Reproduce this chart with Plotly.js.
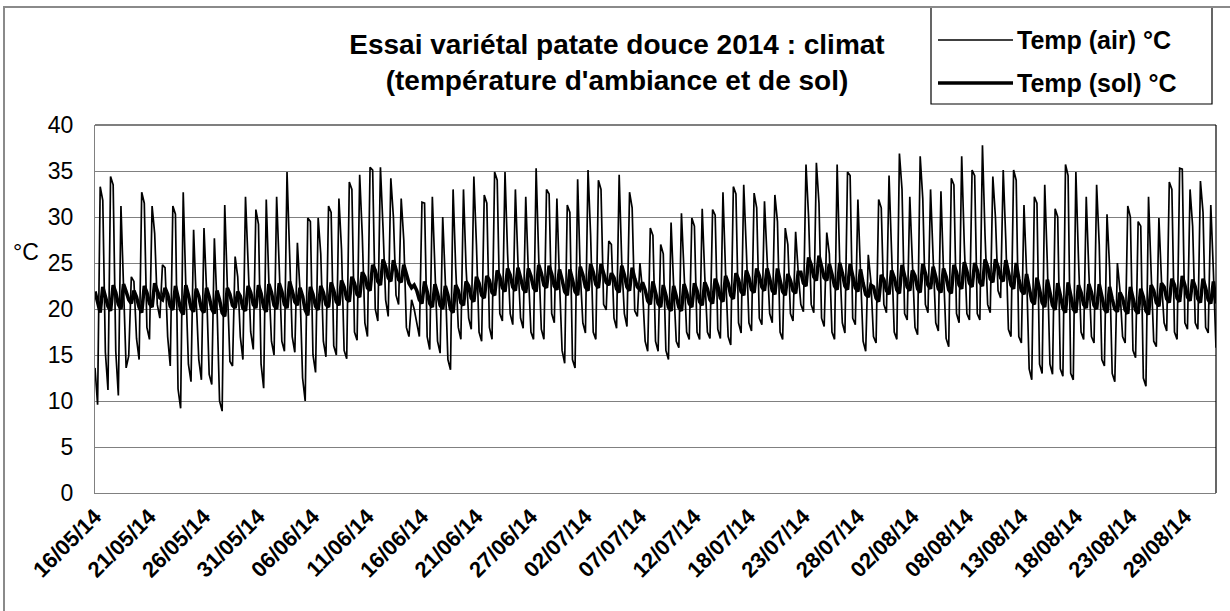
<!DOCTYPE html>
<html>
<head>
<meta charset="utf-8">
<script src="https://cdn.plot.ly/plotly-3.0.1.min.js"></script>
<style>
  html, body { margin: 0; padding: 0; background: #fff; }
  #wrap { position: relative; width: 1230px; height: 611px; overflow: hidden; }
  #chart { position: absolute; left: 0; top: 0; width: 1230px; height: 611px; }
  #frame { position: absolute; left: 3px; top: 6px; width: 1240px; height: 620px;
           border-left: 2px solid #8a8a8a; border-top: 2px solid #8a8a8a; pointer-events: none; }
</style>
</head>
<body>
<div id="wrap"><div id="chart"></div><div id="frame"></div></div>
<script>
// Category tick labels (one every 21 readings, 4 readings per day)
const tickLabels = ['16/05/14','21/05/14','26/05/14','31/05/14','06/06/14','11/06/14','16/06/14',
  '21/06/14','27/06/14','02/07/14','07/07/14','12/07/14','18/07/14','23/07/14','28/07/14',
  '02/08/14','08/08/14','13/08/14','18/08/14','23/08/14','29/08/14'];

// Temp (air) °C — readings at 00h, 06h, 12h, 18h
const airTemp = [
  13.6, 9.6, 33.3, 31.8,
  15.3, 11.2, 34.4, 33.5,
  15.4, 10.6, 31.2, 22.0,
  13.6, 14.9, 23.5, 23.0,
  16.8, 14.5, 32.7, 31.5,
  18.0, 16.7, 31.2, 28.2,
  20.5, 19.0, 24.8, 24.5,
  17.0, 13.8, 31.2, 30.3,
  11.3, 9.2, 32.7, 22.5,
  14.0, 12.1, 28.6, 21.0,
  14.5, 12.3, 28.8, 22.0,
  12.9, 11.8, 27.7, 20.5,
  10.0, 8.9, 31.3, 22.5,
  14.3, 13.8, 25.7, 23.5,
  17.0, 14.5, 32.2, 25.0,
  17.5, 15.6, 30.8, 29.2,
  14.0, 11.4, 31.9, 23.0,
  16.5, 15.0, 32.2, 24.5,
  16.5, 15.4, 34.9, 26.0,
  17.0, 15.3, 27.2, 22.0,
  12.5, 10.0, 29.9, 29.5,
  15.0, 13.1, 29.9, 26.0,
  16.5, 14.8, 31.2, 30.5,
  16.0, 15.0, 32.0, 26.5,
  15.5, 14.6, 33.8, 33.0,
  17.5, 16.6, 34.6, 28.0,
  18.5, 17.0, 35.4, 35.1,
  20.0, 18.7, 35.4, 28.8,
  21.0, 19.2, 34.2, 30.0,
  21.5, 20.5, 32.0, 27.5,
  18.0, 17.0, 21.0, 20.0,
  18.5, 17.0, 31.6, 31.5,
  17.0, 15.6, 32.2, 24.0,
  16.5, 15.2, 30.0, 23.0,
  14.5, 13.4, 33.0, 24.5,
  18.0, 16.7, 33.0, 24.5,
  19.0, 17.8, 34.4, 27.0,
  17.5, 16.5, 32.4, 31.5,
  18.0, 16.7, 34.9, 34.0,
  19.5, 18.7, 34.9, 26.0,
  19.5, 18.3, 33.0, 25.0,
  19.0, 17.9, 32.2, 24.0,
  17.5, 16.7, 35.3, 25.5,
  17.8, 16.7, 33.0, 32.5,
  19.5, 18.5, 32.0, 23.0,
  15.5, 14.1, 31.3, 30.5,
  14.5, 13.6, 34.1, 24.0,
  18.5, 17.4, 35.1, 28.0,
  17.5, 16.7, 34.0, 33.0,
  20.5, 19.9, 27.4, 27.0,
  19.0, 17.9, 34.6, 25.0,
  19.5, 18.1, 32.7, 31.0,
  19.8, 19.2, 25.0, 22.0,
  16.5, 15.4, 28.8, 28.0,
  16.5, 15.4, 27.0, 26.0,
  15.5, 14.5, 29.4, 22.5,
  16.5, 15.8, 30.4, 24.0,
  17.5, 16.7, 29.9, 29.0,
  17.5, 16.7, 30.9, 23.5,
  17.5, 16.8, 30.8, 30.2,
  17.8, 16.8, 32.7, 24.0,
  17.0, 16.1, 33.3, 32.5,
  18.5, 17.4, 33.5, 26.5,
  18.5, 17.6, 32.6, 31.0,
  19.0, 18.3, 31.7, 25.5,
  19.5, 18.5, 32.4, 29.5,
  17.5, 16.7, 28.8, 27.0,
  19.5, 18.7, 28.4, 24.0,
  20.5, 19.7, 35.7, 30.0,
  20.5, 19.6, 35.9, 31.5,
  19.0, 18.1, 28.3, 26.0,
  17.5, 16.7, 35.7, 25.0,
  18.5, 17.4, 34.9, 34.5,
  19.0, 18.3, 31.9, 24.0,
  16.5, 15.4, 25.9, 23.0,
  17.0, 16.3, 31.9, 31.0,
  20.5, 19.6, 34.5, 26.0,
  17.5, 16.7, 36.9, 33.0,
  19.5, 18.8, 32.2, 25.0,
  18.0, 17.2, 36.6, 32.0,
  20.5, 19.6, 33.0, 25.5,
  18.5, 17.6, 32.8, 24.0,
  16.8, 15.9, 34.2, 33.5,
  19.5, 18.5, 36.6, 27.0,
  19.5, 18.8, 35.1, 34.5,
  19.5, 18.8, 37.8, 28.0,
  20.5, 19.6, 34.4, 30.0,
  22.0, 21.2, 35.1, 27.5,
  17.8, 17.0, 35.1, 34.0,
  17.0, 16.3, 31.3, 24.0,
  13.5, 12.3, 32.2, 31.5,
  14.0, 13.0, 33.5, 25.0,
  14.0, 12.9, 30.9, 30.0,
  13.5, 12.7, 35.7, 34.5,
  13.0, 12.3, 34.9, 25.5,
  17.5, 16.7, 32.2, 24.0,
  17.0, 16.3, 33.5, 27.0,
  14.5, 13.8, 30.3, 24.5,
  13.0, 12.1, 25.0, 22.0,
  17.0, 16.3, 31.2, 30.0,
  15.5, 14.7, 29.5, 29.0,
  12.5, 11.6, 32.2, 24.0,
  16.5, 15.9, 29.9, 23.0,
  18.5, 17.6, 33.8, 33.0,
  17.5, 16.7, 35.3, 35.2,
  18.5, 17.8, 33.0, 29.0,
  18.5, 17.8, 33.9, 30.5,
  18.0, 17.4, 31.3, 24.0,
  15.8
];

// Temp (sol) °C — readings at 00h, 06h, 12h, 18h
const soilTemp = [
  21.9, 20.6, 19.6, 22.4,
  21.5, 20.3, 19.8, 22.6,
  21.8, 20.5, 20.0, 22.7,
  21.9, 21.0, 20.6, 22.0,
  21.3, 20.2, 19.6, 22.5,
  21.8, 20.6, 20.2, 22.8,
  22.0, 21.2, 21.0, 22.3,
  21.6, 20.3, 19.9, 22.5,
  21.3, 19.9, 19.4, 22.6,
  21.5, 20.1, 19.7, 22.2,
  21.4, 20.0, 19.6, 22.3,
  21.3, 20.0, 19.5, 22.0,
  21.0, 19.6, 19.2, 22.3,
  21.6, 20.4, 20.1, 21.9,
  21.4, 20.1, 19.8, 22.5,
  21.8, 20.5, 20.1, 22.6,
  21.7, 20.2, 19.7, 22.7,
  21.8, 20.4, 20.0, 22.8,
  21.9, 20.5, 20.1, 23.0,
  22.0, 20.8, 20.4, 22.3,
  21.4, 19.9, 19.3, 22.4,
  21.6, 20.3, 19.9, 22.5,
  21.8, 20.5, 20.2, 22.9,
  22.0, 20.8, 20.4, 23.1,
  22.4, 21.1, 20.8, 23.5,
  22.8, 21.6, 21.3, 24.0,
  23.5, 22.3, 22.0, 24.8,
  24.2, 23.0, 22.6, 25.4,
  24.6, 23.4, 23.0, 25.3,
  24.3, 23.2, 22.9, 24.8,
  23.8, 22.8, 22.3, 22.6,
  22.0, 21.0, 20.6, 23.0,
  21.9, 20.6, 20.2, 22.7,
  21.7, 20.4, 20.0, 22.5,
  21.5, 20.0, 19.6, 22.6,
  22.0, 20.7, 20.4, 23.0,
  22.5, 21.2, 20.8, 23.5,
  22.8, 21.5, 21.2, 23.6,
  23.1, 21.8, 21.5, 24.2,
  23.5, 22.3, 21.9, 24.4,
  23.7, 22.4, 22.0, 24.5,
  23.4, 22.2, 21.8, 24.4,
  23.6, 22.3, 21.9, 24.8,
  23.9, 22.6, 22.3, 24.7,
  23.8, 22.5, 22.1, 24.3,
  23.2, 21.9, 21.5, 24.3,
  23.2, 21.9, 21.5, 24.6,
  23.7, 22.4, 22.0, 24.9,
  24.0, 22.7, 22.3, 24.9,
  23.9, 22.9, 22.6, 23.9,
  23.4, 22.2, 21.8, 24.7,
  23.7, 22.4, 22.0, 24.5,
  23.3, 22.4, 22.1, 22.9,
  22.1, 20.9, 20.5, 23.0,
  21.8, 20.6, 20.2, 22.6,
  21.5, 20.2, 19.8, 22.5,
  21.4, 20.2, 19.8, 22.7,
  21.8, 20.6, 20.2, 22.8,
  22.0, 20.8, 20.4, 22.9,
  22.2, 21.0, 20.6, 23.3,
  22.5, 21.2, 20.8, 23.6,
  22.8, 21.5, 21.1, 23.9,
  23.2, 21.9, 21.5, 24.2,
  23.4, 22.1, 21.8, 24.4,
  23.6, 22.4, 22.0, 24.4,
  23.3, 22.0, 21.6, 24.4,
  23.1, 21.9, 21.5, 23.8,
  23.1, 22.0, 21.7, 24.0,
  24.0, 22.8, 22.5, 25.6,
  24.8, 23.5, 23.1, 25.8,
  24.6, 23.4, 23.1, 24.9,
  23.8, 22.5, 22.1, 25.0,
  23.9, 22.5, 22.1, 24.9,
  23.6, 22.3, 21.9, 24.3,
  22.8, 21.6, 21.3, 22.6,
  22.4, 21.2, 20.8, 23.7,
  23.2, 22.0, 21.6, 24.2,
  23.4, 22.1, 21.7, 24.8,
  23.6, 22.4, 22.0, 24.2,
  23.6, 22.2, 21.8, 24.9,
  23.9, 22.6, 22.2, 24.6,
  23.5, 22.2, 21.8, 24.4,
  23.5, 22.1, 21.7, 24.8,
  24.0, 22.6, 22.2, 25.1,
  24.1, 22.8, 22.4, 25.0,
  24.2, 22.9, 22.5, 25.4,
  24.6, 23.3, 22.9, 25.4,
  24.6, 23.4, 23.0, 25.3,
  24.0, 22.6, 22.2, 25.0,
  23.3, 22.0, 21.6, 23.8,
  22.3, 20.9, 20.5, 23.4,
  22.1, 20.7, 20.2, 23.2,
  21.8, 20.4, 19.9, 22.8,
  21.5, 20.1, 19.6, 22.9,
  21.5, 20.0, 19.6, 22.6,
  21.8, 20.5, 20.1, 22.7,
  21.8, 20.4, 20.0, 22.7,
  21.4, 20.0, 19.6, 22.4,
  21.1, 20.0, 19.7, 21.8,
  21.2, 19.9, 19.5, 22.4,
  21.2, 19.9, 19.5, 22.2,
  21.3, 19.8, 19.4, 22.6,
  22.0, 20.7, 20.3, 22.8,
  22.4, 21.1, 20.7, 23.3,
  22.6, 21.2, 20.8, 23.6,
  22.6, 21.3, 20.9, 23.2,
  22.4, 21.1, 20.7, 23.3,
  22.3, 21.0, 20.6, 23.0,
  20.6
];

const seriesNames = ['Temp (air) °C', 'Temp (sol) °C'];
const titleText = 'Essai variétal patate douce 2014 : climat<br>(température d\'ambiance et de sol)';

// category positions (reading index) for the x axis
const idx = airTemp.map((_, i) => i);
const tickPos = tickLabels.map((_, j) => j * 21);

const FONT = 'Liberation Sans, Arial, sans-serif';

const traces = [
  { x: idx, y: airTemp, type: 'scatter', mode: 'lines', name: seriesNames[0],
    line: { color: '#000000', width: 1.7 } },
  { x: idx, y: soilTemp, type: 'scatter', mode: 'lines', name: seriesNames[1],
    line: { color: '#000000', width: 3.6 } }
];

// pixel helpers (plot area: x 95..1216, y 125..493)
const PX0 = 95, PW = 1121, PY1 = 493, PH = 368;
const px = v => (v - PX0) / PW;
const py = v => (PY1 - v) / PH;

const layout = {
  width: 1230, height: 611,
  margin: { l: 95, r: 14, t: 125, b: 118, pad: 0 },
  paper_bgcolor: '#ffffff', plot_bgcolor: '#ffffff',
  showlegend: false,
  font: { family: FONT, color: '#000000' },
  title: {
    text: titleText,
    font: { family: FONT, size: 28, weight: 'bold', color: '#000000' },
    x: 617 / 1230, xanchor: 'center', xref: 'container',
    y: 1 - 54 / 611, yanchor: 'middle', yref: 'container'
  },
  xaxis: {
    type: 'linear', range: [0, airTemp.length - 1],
    tickmode: 'array', tickvals: tickPos, ticktext: tickLabels,
    tickangle: -45, ticks: '', ticklabelstandoff: 1,
    tickfont: { family: FONT, size: 22, weight: 'bold', color: '#000000' },
    showgrid: false, zeroline: false,
    showline: true, linecolor: '#808080', linewidth: 1
  },
  yaxis: {
    range: [0, 40], tickmode: 'linear', tick0: 0, dtick: 5,
    ticks: '', ticklabelstandoff: 16,
    tickfont: { family: FONT, size: 23, color: '#000000' },
    showgrid: true, gridcolor: '#808080', gridwidth: 1,
    zeroline: false, showline: true, linecolor: '#808080', linewidth: 1
  },
  shapes: [
    { type: 'line', xref: 'paper', yref: 'paper', x0: 0, x1: 1, y0: 1, y1: 1,
      line: { color: '#000000', width: 1.2 } },
    { type: 'line', xref: 'paper', yref: 'paper', x0: 1, x1: 1, y0: 0, y1: 1,
      line: { color: '#000000', width: 1.2 } },
    { type: 'rect', xref: 'paper', yref: 'paper', x0: px(931), x1: px(1212), y0: py(104), y1: py(7),
      line: { color: '#000000', width: 1.2 }, fillcolor: 'rgba(0,0,0,0)' },
    { type: 'line', xref: 'paper', yref: 'paper', x0: px(938), x1: px(1013), y0: py(40), y1: py(40),
      line: { color: '#000000', width: 1.7 } },
    { type: 'line', xref: 'paper', yref: 'paper', x0: px(938), x1: px(1013), y0: py(83), y1: py(83),
      line: { color: '#000000', width: 3.6 } }
  ],
  annotations: [
    { text: seriesNames[0], xref: 'paper', yref: 'paper', x: px(1015), y: py(40),
      xanchor: 'left', yanchor: 'middle', showarrow: false,
      font: { family: FONT, size: 25, weight: 'bold', color: '#000000' } },
    { text: seriesNames[1], xref: 'paper', yref: 'paper', x: px(1015), y: py(83),
      xanchor: 'left', yanchor: 'middle', showarrow: false,
      font: { family: FONT, size: 25, weight: 'bold', color: '#000000' } },
    { text: '°C', xref: 'paper', yref: 'paper', x: px(11), y: py(252),
      xanchor: 'left', yanchor: 'middle', showarrow: false,
      font: { family: FONT, size: 23, color: '#000000' } }
  ]
};

Plotly.newPlot('chart', traces, layout, { displayModeBar: false, staticPlot: true });
</script>
</body>
</html>
